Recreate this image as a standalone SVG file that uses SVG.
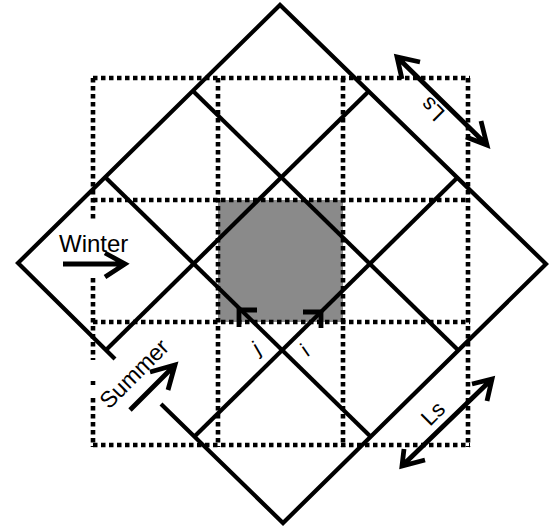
<svg xmlns="http://www.w3.org/2000/svg" width="551" height="531" viewBox="0 0 551 531">
<style>
.solid{stroke:#000;stroke-width:4.2;fill:none;stroke-linejoin:miter}
.dot{stroke:#000;stroke-width:4.6;stroke-dasharray:4.5 3.5;fill:none}
.arr{stroke:#000;stroke-width:4.8;fill:none;stroke-linecap:butt;stroke-linejoin:miter}
.lbl{font-family:"Liberation Sans",Arial,sans-serif;fill:#000}
</style>
<rect width="551" height="531" fill="#fff"/>
<g id="shaded-cell">
<rect x="218" y="200" width="125" height="122" fill="#8a8a8a"/>
</g>
<g id="dotted-grid">
<line class="dot" x1="93" y1="78" x2="470" y2="78"/>
<line class="dot" x1="93" y1="200" x2="470" y2="200"/>
<line class="dot" x1="93" y1="322" x2="470" y2="322"/>
<line class="dot" x1="93" y1="445" x2="470" y2="445"/>
<line class="dot" x1="93" y1="78" x2="93" y2="221"/>
<line class="dot" x1="93" y1="278" x2="93" y2="360"/>
<line class="dot" x1="93" y1="381" x2="93" y2="385"/>
<line class="dot" x1="93" y1="398" x2="93" y2="447"/>
<line class="dot" x1="218" y1="78" x2="218" y2="447"/>
<line class="dot" x1="343" y1="78" x2="343" y2="447"/>
<line class="dot" x1="468" y1="78" x2="468" y2="447"/>
</g>
<g id="diamond-grid">
<path class="solid" d="M161,404 L283,523 L546,264 L280,5 L18,263 L115,359"/>
<line class="solid" x1="193" y1="91" x2="458" y2="350"/>
<line class="solid" x1="105" y1="177" x2="371" y2="437"/>
<line class="solid" x1="369" y1="91" x2="106" y2="350"/>
<line class="solid" x1="457" y1="178" x2="195" y2="436"/>
</g>
<g id="connectors">
<path class="arr" d="M63,264 L125,264 M105,253 L125,264 L105,277"/>
<path class="arr" d="M130,410 L175,365 M150,372 L175,365 L168,390"/>
<path class="arr" d="M397,57 L487,145 M420,62 L397,57 L402,79 M466,137 L487,145 L481,121"/>
<path class="arr" d="M402,466 L492,379 M472,384 L492,379 L487,401 M404,449 L402,466 L425,460"/>
<path class="arr" d="M257,310 L239,310 L239,327"/>
<path class="arr" d="M303,312 L321,312 L321,328"/>
</g>
<g id="labels">
<text class="lbl" x="59" y="252" font-size="24">Winter</text>
<text class="lbl" font-size="23" transform="translate(109,410) rotate(-45)">Summer</text>
<text class="lbl" font-size="22" transform="translate(430,427) rotate(-45)">Ls</text>
<text class="lbl" font-size="22" transform="translate(446,112) rotate(225)">Ls</text>
<text class="lbl" font-size="21" text-anchor="middle" transform="translate(260,354) rotate(-30)">j</text>
<text class="lbl" font-size="21" text-anchor="middle" transform="translate(309,356) rotate(-35)">i</text>
</g>
</svg>
